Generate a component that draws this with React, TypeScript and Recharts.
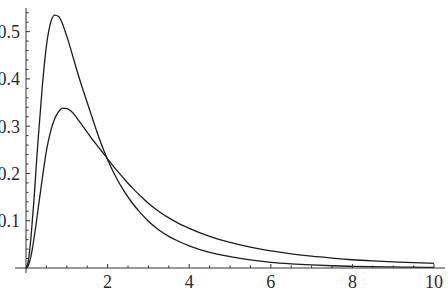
import React from 'react';
import { LineChart, Line, XAxis, YAxis, ReferenceLine } from 'recharts';

// sample positions along x and the two density curves
const xs = [
    0, 0.05, 0.1, 0.15, 0.2, 0.25, 0.3, 0.4, 0.5, 0.6, 0.7, 0.8, 0.9, 1.0,
    1.1, 1.2, 1.3, 1.4, 1.5, 1.6, 1.7, 1.8, 1.9, 2.0, 2.2, 2.4, 2.6, 2.8, 3.0,
    3.25, 3.5, 3.75, 4.0, 4.5, 5.0, 5.5, 6.0, 6.5, 7.0, 7.5, 8.0, 8.5, 9.0,
    9.5, 10,
];
const tallCurve = [
    0, 0.012, 0.045, 0.095, 0.15, 0.215, 0.275, 0.385, 0.47, 0.518, 0.535,
    0.532, 0.515, 0.49, 0.462, 0.432, 0.403, 0.376, 0.35, 0.324, 0.298, 0.273,
    0.25, 0.229, 0.193, 0.163, 0.138, 0.117, 0.099, 0.081, 0.067, 0.056,
    0.047, 0.033, 0.024, 0.017, 0.012, 0.0088, 0.0065, 0.0048, 0.0036,
    0.0028, 0.0022, 0.0017, 0.0013,
];
const flatCurve = [
    0, 0.004, 0.017, 0.038, 0.065, 0.095, 0.127, 0.19, 0.248, 0.288, 0.315,
    0.331, 0.338, 0.337, 0.332, 0.323, 0.311, 0.299, 0.287, 0.275, 0.264,
    0.253, 0.242, 0.231, 0.209, 0.189, 0.17, 0.153, 0.137, 0.12, 0.106,
    0.094, 0.084, 0.067, 0.054, 0.044, 0.036, 0.03, 0.025, 0.021, 0.0175,
    0.015, 0.013, 0.0112, 0.0098,
];

const xTicks = [
    0.5, 1, 1.5, 2, 2.5, 3, 3.5, 4, 4.5, 5, 5.5, 6, 6.5, 7, 7.5, 8, 8.5, 9,
    9.5, 10,
];
const xLabels = [2, 4, 6, 8, 10];
const yTicks = [
    0, 0.02, 0.04, 0.06, 0.08, 0.1, 0.12, 0.14, 0.16, 0.18, 0.2, 0.22, 0.24,
    0.26, 0.28, 0.3, 0.32, 0.34, 0.36, 0.38, 0.4, 0.42, 0.44, 0.46, 0.48, 0.5,
    0.52, 0.54,
];
const yLabels = [0.1, 0.2, 0.3, 0.4, 0.5];

const data = xs.map((x, i) => ({ x, a: tallCurve[i], b: flatCurve[i] }));

const W = 448;
const H = 292;
const YAXIS_W = 1;
const MARGIN = { top: 8, right: 3, bottom: 0, left: 14 };
const X_DOMAIN: [number, number] = [-0.27, 10.27];
const PLOT_LEFT = MARGIN.left + YAXIS_W;
const PLOT_W = W - PLOT_LEFT - MARGIN.right;
// pixel column where x = 0 sits (the y axis is drawn there, Mathematica style)
const Y_AXIS_X =
    PLOT_LEFT + (PLOT_W * (0 - X_DOMAIN[0])) / (X_DOMAIN[1] - X_DOMAIN[0]);

const AXIS = '#333';
const INK = '#1c1c1c';
const FONT = '"Liberation Serif", "DejaVu Serif", serif';

function XTick(props: any) {
    const { x, y, payload } = props;
    const v = payload.value;
    const major = xLabels.includes(v);
    return (
        <g>
            <line
                x1={x}
                x2={x}
                y1={y}
                y2={y - (major ? 4 : 2.5)}
                stroke={AXIS}
                strokeWidth={1}
            />
            {major && (
                <text
                    x={x}
                    y={y + 20}
                    textAnchor="middle"
                    fontFamily={FONT}
                    fontSize={18}
                    fill="#2a2a2a"
                >
                    {v}
                </text>
            )}
        </g>
    );
}

function YTick(props: any) {
    const { y, payload } = props;
    const v = payload.value;
    const major = yLabels.includes(v);
    if (v === 0) {
        return (
            <line
                x1={Y_AXIS_X}
                x2={Y_AXIS_X}
                y1={y}
                y2={y + 5}
                stroke={AXIS}
                strokeWidth={1}
            />
        );
    }
    return (
        <g>
            <line
                x1={Y_AXIS_X}
                x2={Y_AXIS_X + (major ? 4 : 2.5)}
                y1={y}
                y2={y}
                stroke={AXIS}
                strokeWidth={1}
            />
            {major && (
                <text
                    x={Y_AXIS_X - 6}
                    y={y + 6.5}
                    textAnchor="end"
                    fontFamily={FONT}
                    fontSize={18}
                    fill="#2a2a2a"
                >
                    {v.toFixed(1)}
                </text>
            )}
        </g>
    );
}

export default function App() {
    return (
        <div
            style={{
                position: 'absolute',
                left: 0,
                top: 0,
                width: W,
                height: H,
                background: '#fff',
            }}
        >
            <LineChart
                width={W}
                height={H}
                data={data}
                margin={MARGIN}
                style={{ overflow: 'visible' }}
            >
                <XAxis
                    dataKey="x"
                    type="number"
                    domain={X_DOMAIN}
                    ticks={xTicks}
                    interval={0}
                    height={24}
                    tickSize={0}
                    tickMargin={0}
                    tickLine={false}
                    axisLine={{ stroke: AXIS, strokeWidth: 1 }}
                    tick={<XTick />}
                />
                <YAxis
                    type="number"
                    domain={[0, 0.55]}
                    ticks={yTicks}
                    interval={0}
                    width={YAXIS_W}
                    tickSize={0}
                    tickMargin={0}
                    tickLine={false}
                    axisLine={false}
                    tick={<YTick />}
                />
                <ReferenceLine x={0} stroke={AXIS} strokeWidth={1} />
                <Line
                    dataKey="a"
                    type="monotone"
                    stroke={INK}
                    strokeWidth={1.3}
                    dot={false}
                    isAnimationActive={false}
                />
                <Line
                    dataKey="b"
                    type="monotone"
                    stroke={INK}
                    strokeWidth={1.3}
                    dot={false}
                    isAnimationActive={false}
                />
            </LineChart>
        </div>
    );
}
